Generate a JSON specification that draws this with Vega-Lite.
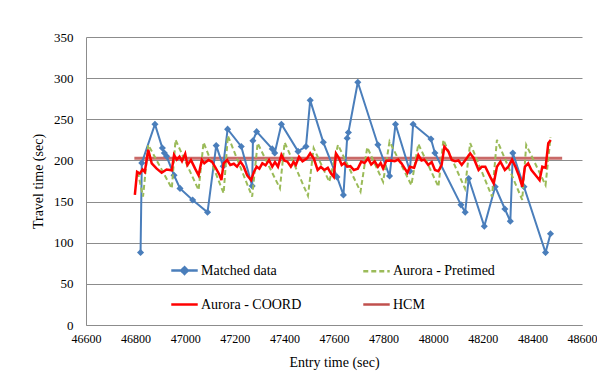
{
  "$schema": "https://vega.github.io/schema/vega-lite/v6.json",
  "width": 496,
  "height": 288,
  "autosize": {"type": "none"},
  "padding": {"left": 86, "top": 37, "right": 15, "bottom": 51},
  "background": "white",
  "config": {
    "view": {"stroke": null},
    "font": "Liberation Serif",
    "axis": {
      "labelFont": "Liberation Serif",
      "titleFont": "Liberation Serif",
      "labelFontSize": 13,
      "titleFontSize": 14,
      "labelColor": "#000000",
      "titleColor": "#000000",
      "titleFontWeight": "normal",
      "gridColor": "#8C8C8C",
      "gridWidth": 1,
      "domainColor": "#8C8C8C",
      "domainWidth": 1,
      "ticks": false
    },
    "legend": {"labelFont": "Liberation Serif"}
  },
  "data": {
    "values": [
      {"series": "HCM", "t": 46795, "v": 202.5},
      {"series": "HCM", "t": 48520, "v": 202.5},

      {"series": "Matched data", "t": 46820, "v": 88},
      {"series": "Matched data", "t": 46825, "v": 197},
      {"series": "Matched data", "t": 46878, "v": 244},
      {"series": "Matched data", "t": 46908, "v": 215},
      {"series": "Matched data", "t": 46916, "v": 209},
      {"series": "Matched data", "t": 46925, "v": 205},
      {"series": "Matched data", "t": 46955, "v": 182},
      {"series": "Matched data", "t": 46979, "v": 166},
      {"series": "Matched data", "t": 47030, "v": 152},
      {"series": "Matched data", "t": 47090, "v": 137},
      {"series": "Matched data", "t": 47125, "v": 218},
      {"series": "Matched data", "t": 47153, "v": 193},
      {"series": "Matched data", "t": 47171, "v": 238},
      {"series": "Matched data", "t": 47226, "v": 217},
      {"series": "Matched data", "t": 47270, "v": 169},
      {"series": "Matched data", "t": 47273, "v": 224},
      {"series": "Matched data", "t": 47288, "v": 235},
      {"series": "Matched data", "t": 47351, "v": 214},
      {"series": "Matched data", "t": 47361, "v": 209},
      {"series": "Matched data", "t": 47388, "v": 244},
      {"series": "Matched data", "t": 47455, "v": 211},
      {"series": "Matched data", "t": 47487, "v": 217},
      {"series": "Matched data", "t": 47504, "v": 273},
      {"series": "Matched data", "t": 47557, "v": 222},
      {"series": "Matched data", "t": 47612, "v": 180},
      {"series": "Matched data", "t": 47638, "v": 158},
      {"series": "Matched data", "t": 47653, "v": 227},
      {"series": "Matched data", "t": 47658, "v": 234},
      {"series": "Matched data", "t": 47696, "v": 295},
      {"series": "Matched data", "t": 47777, "v": 219},
      {"series": "Matched data", "t": 47824, "v": 181},
      {"series": "Matched data", "t": 47848, "v": 244},
      {"series": "Matched data", "t": 47906, "v": 187},
      {"series": "Matched data", "t": 47919, "v": 244},
      {"series": "Matched data", "t": 47991, "v": 226},
      {"series": "Matched data", "t": 48007, "v": 209},
      {"series": "Matched data", "t": 48112, "v": 146},
      {"series": "Matched data", "t": 48129, "v": 137},
      {"series": "Matched data", "t": 48143, "v": 178},
      {"series": "Matched data", "t": 48206, "v": 120},
      {"series": "Matched data", "t": 48250, "v": 168},
      {"series": "Matched data", "t": 48289, "v": 141},
      {"series": "Matched data", "t": 48311, "v": 126},
      {"series": "Matched data", "t": 48321, "v": 209},
      {"series": "Matched data", "t": 48366, "v": 168},
      {"series": "Matched data", "t": 48453, "v": 88},
      {"series": "Matched data", "t": 48473, "v": 111},

      {"series": "Aurora - Pretimed", "t": 46809, "v": 186},
      {"series": "Aurora - Pretimed", "t": 46830, "v": 156},
      {"series": "Aurora - Pretimed", "t": 46851, "v": 219},
      {"series": "Aurora - Pretimed", "t": 46946, "v": 166},
      {"series": "Aurora - Pretimed", "t": 46961, "v": 225},
      {"series": "Aurora - Pretimed", "t": 47054, "v": 164},
      {"series": "Aurora - Pretimed", "t": 47074, "v": 222},
      {"series": "Aurora - Pretimed", "t": 47155, "v": 160},
      {"series": "Aurora - Pretimed", "t": 47172, "v": 230},
      {"series": "Aurora - Pretimed", "t": 47270, "v": 156},
      {"series": "Aurora - Pretimed", "t": 47292, "v": 221},
      {"series": "Aurora - Pretimed", "t": 47382, "v": 166},
      {"series": "Aurora - Pretimed", "t": 47401, "v": 222},
      {"series": "Aurora - Pretimed", "t": 47495, "v": 157},
      {"series": "Aurora - Pretimed", "t": 47518, "v": 215},
      {"series": "Aurora - Pretimed", "t": 47581, "v": 174},
      {"series": "Aurora - Pretimed", "t": 47616, "v": 219},
      {"series": "Aurora - Pretimed", "t": 47707, "v": 162},
      {"series": "Aurora - Pretimed", "t": 47734, "v": 216},
      {"series": "Aurora - Pretimed", "t": 47798, "v": 174},
      {"series": "Aurora - Pretimed", "t": 47824, "v": 223},
      {"series": "Aurora - Pretimed", "t": 47912, "v": 170},
      {"series": "Aurora - Pretimed", "t": 47940, "v": 220},
      {"series": "Aurora - Pretimed", "t": 48021, "v": 168},
      {"series": "Aurora - Pretimed", "t": 48041, "v": 225},
      {"series": "Aurora - Pretimed", "t": 48128, "v": 166},
      {"series": "Aurora - Pretimed", "t": 48149, "v": 221},
      {"series": "Aurora - Pretimed", "t": 48237, "v": 156},
      {"series": "Aurora - Pretimed", "t": 48257, "v": 225},
      {"series": "Aurora - Pretimed", "t": 48359, "v": 152},
      {"series": "Aurora - Pretimed", "t": 48375, "v": 219},
      {"series": "Aurora - Pretimed", "t": 48453, "v": 170},
      {"series": "Aurora - Pretimed", "t": 48473, "v": 228},

      {"series": "Aurora - COORD", "t": 46797, "v": 158},
      {"series": "Aurora - COORD", "t": 46806, "v": 186},
      {"series": "Aurora - COORD", "t": 46817, "v": 184},
      {"series": "Aurora - COORD", "t": 46828, "v": 189},
      {"series": "Aurora - COORD", "t": 46837, "v": 186},
      {"series": "Aurora - COORD", "t": 46851, "v": 213},
      {"series": "Aurora - COORD", "t": 46865, "v": 196.5},
      {"series": "Aurora - COORD", "t": 46885, "v": 190},
      {"series": "Aurora - COORD", "t": 46905, "v": 185},
      {"series": "Aurora - COORD", "t": 46925, "v": 189},
      {"series": "Aurora - COORD", "t": 46946, "v": 188},
      {"series": "Aurora - COORD", "t": 46955, "v": 206.6},
      {"series": "Aurora - COORD", "t": 46966, "v": 201},
      {"series": "Aurora - COORD", "t": 46977, "v": 204.5},
      {"series": "Aurora - COORD", "t": 46987, "v": 199},
      {"series": "Aurora - COORD", "t": 47000, "v": 208},
      {"series": "Aurora - COORD", "t": 47009, "v": 194.5},
      {"series": "Aurora - COORD", "t": 47023, "v": 200.5},
      {"series": "Aurora - COORD", "t": 47040, "v": 190},
      {"series": "Aurora - COORD", "t": 47054, "v": 182},
      {"series": "Aurora - COORD", "t": 47067, "v": 200.5},
      {"series": "Aurora - COORD", "t": 47077, "v": 196.5},
      {"series": "Aurora - COORD", "t": 47094, "v": 200.5},
      {"series": "Aurora - COORD", "t": 47108, "v": 198.5},
      {"series": "Aurora - COORD", "t": 47121, "v": 192},
      {"series": "Aurora - COORD", "t": 47139, "v": 182},
      {"series": "Aurora - COORD", "t": 47146, "v": 176},
      {"series": "Aurora - COORD", "t": 47155, "v": 196.5},
      {"series": "Aurora - COORD", "t": 47169, "v": 200.5},
      {"series": "Aurora - COORD", "t": 47182, "v": 194.5},
      {"series": "Aurora - COORD", "t": 47196, "v": 196},
      {"series": "Aurora - COORD", "t": 47209, "v": 192.4},
      {"series": "Aurora - COORD", "t": 47223, "v": 198.5},
      {"series": "Aurora - COORD", "t": 47236, "v": 192.4},
      {"series": "Aurora - COORD", "t": 47250, "v": 182},
      {"series": "Aurora - COORD", "t": 47266, "v": 176},
      {"series": "Aurora - COORD", "t": 47277, "v": 186},
      {"series": "Aurora - COORD", "t": 47288, "v": 192.4},
      {"series": "Aurora - COORD", "t": 47299, "v": 190},
      {"series": "Aurora - COORD", "t": 47311, "v": 196.5},
      {"series": "Aurora - COORD", "t": 47324, "v": 194},
      {"series": "Aurora - COORD", "t": 47338, "v": 200.5},
      {"series": "Aurora - COORD", "t": 47351, "v": 192.4},
      {"series": "Aurora - COORD", "t": 47362, "v": 198},
      {"series": "Aurora - COORD", "t": 47374, "v": 192.4},
      {"series": "Aurora - COORD", "t": 47388, "v": 206.6},
      {"series": "Aurora - COORD", "t": 47399, "v": 200},
      {"series": "Aurora - COORD", "t": 47412, "v": 198.5},
      {"series": "Aurora - COORD", "t": 47426, "v": 192.4},
      {"series": "Aurora - COORD", "t": 47437, "v": 198},
      {"series": "Aurora - COORD", "t": 47446, "v": 194.5},
      {"series": "Aurora - COORD", "t": 47459, "v": 204.5},
      {"series": "Aurora - COORD", "t": 47473, "v": 199},
      {"series": "Aurora - COORD", "t": 47491, "v": 202.5},
      {"series": "Aurora - COORD", "t": 47504, "v": 208.6},
      {"series": "Aurora - COORD", "t": 47519, "v": 202},
      {"series": "Aurora - COORD", "t": 47534, "v": 188.4},
      {"series": "Aurora - COORD", "t": 47547, "v": 192},
      {"series": "Aurora - COORD", "t": 47561, "v": 188.4},
      {"series": "Aurora - COORD", "t": 47575, "v": 191},
      {"series": "Aurora - COORD", "t": 47588, "v": 184},
      {"series": "Aurora - COORD", "t": 47599, "v": 180},
      {"series": "Aurora - COORD", "t": 47608, "v": 208.6},
      {"series": "Aurora - COORD", "t": 47620, "v": 203},
      {"series": "Aurora - COORD", "t": 47631, "v": 194.5},
      {"series": "Aurora - COORD", "t": 47642, "v": 197},
      {"series": "Aurora - COORD", "t": 47653, "v": 192.4},
      {"series": "Aurora - COORD", "t": 47666, "v": 193},
      {"series": "Aurora - COORD", "t": 47680, "v": 188.4},
      {"series": "Aurora - COORD", "t": 47696, "v": 190},
      {"series": "Aurora - COORD", "t": 47710, "v": 198.5},
      {"series": "Aurora - COORD", "t": 47723, "v": 197},
      {"series": "Aurora - COORD", "t": 47737, "v": 202.5},
      {"series": "Aurora - COORD", "t": 47750, "v": 195},
      {"series": "Aurora - COORD", "t": 47764, "v": 199},
      {"series": "Aurora - COORD", "t": 47777, "v": 192.4},
      {"series": "Aurora - COORD", "t": 47788, "v": 197},
      {"series": "Aurora - COORD", "t": 47798, "v": 190.4},
      {"series": "Aurora - COORD", "t": 47811, "v": 199.7},
      {"series": "Aurora - COORD", "t": 47831, "v": 200},
      {"series": "Aurora - COORD", "t": 47845, "v": 199},
      {"series": "Aurora - COORD", "t": 47859, "v": 201},
      {"series": "Aurora - COORD", "t": 47872, "v": 196.5},
      {"series": "Aurora - COORD", "t": 47885, "v": 190.4},
      {"series": "Aurora - COORD", "t": 47896, "v": 185},
      {"series": "Aurora - COORD", "t": 47906, "v": 192.4},
      {"series": "Aurora - COORD", "t": 47923, "v": 191},
      {"series": "Aurora - COORD", "t": 47940, "v": 206.6},
      {"series": "Aurora - COORD", "t": 47953, "v": 200},
      {"series": "Aurora - COORD", "t": 47964, "v": 201},
      {"series": "Aurora - COORD", "t": 47980, "v": 194.5},
      {"series": "Aurora - COORD", "t": 47994, "v": 198},
      {"series": "Aurora - COORD", "t": 48007, "v": 188.4},
      {"series": "Aurora - COORD", "t": 48021, "v": 187},
      {"series": "Aurora - COORD", "t": 48034, "v": 194.5},
      {"series": "Aurora - COORD", "t": 48045, "v": 216.7},
      {"series": "Aurora - COORD", "t": 48061, "v": 211},
      {"series": "Aurora - COORD", "t": 48075, "v": 200.5},
      {"series": "Aurora - COORD", "t": 48088, "v": 199},
      {"series": "Aurora - COORD", "t": 48102, "v": 200},
      {"series": "Aurora - COORD", "t": 48115, "v": 194.5},
      {"series": "Aurora - COORD", "t": 48136, "v": 203},
      {"series": "Aurora - COORD", "t": 48149, "v": 208.6},
      {"series": "Aurora - COORD", "t": 48163, "v": 203},
      {"series": "Aurora - COORD", "t": 48183, "v": 188.4},
      {"series": "Aurora - COORD", "t": 48196, "v": 192.4},
      {"series": "Aurora - COORD", "t": 48210, "v": 192.4},
      {"series": "Aurora - COORD", "t": 48230, "v": 180},
      {"series": "Aurora - COORD", "t": 48244, "v": 172},
      {"series": "Aurora - COORD", "t": 48257, "v": 192.4},
      {"series": "Aurora - COORD", "t": 48271, "v": 198.5},
      {"series": "Aurora - COORD", "t": 48289, "v": 188.4},
      {"series": "Aurora - COORD", "t": 48302, "v": 192},
      {"series": "Aurora - COORD", "t": 48318, "v": 201},
      {"series": "Aurora - COORD", "t": 48332, "v": 192},
      {"series": "Aurora - COORD", "t": 48345, "v": 182},
      {"series": "Aurora - COORD", "t": 48359, "v": 168},
      {"series": "Aurora - COORD", "t": 48370, "v": 192.4},
      {"series": "Aurora - COORD", "t": 48383, "v": 196.5},
      {"series": "Aurora - COORD", "t": 48396, "v": 188.4},
      {"series": "Aurora - COORD", "t": 48413, "v": 182},
      {"series": "Aurora - COORD", "t": 48429, "v": 176},
      {"series": "Aurora - COORD", "t": 48440, "v": 192.4},
      {"series": "Aurora - COORD", "t": 48453, "v": 191},
      {"series": "Aurora - COORD", "t": 48464, "v": 220.8},
      {"series": "Aurora - COORD", "t": 48474, "v": 224.8}
    ]
  },
  "encoding": {
    "x": {
      "field": "t",
      "type": "quantitative",
      "scale": {"domain": [46600, 48600], "nice": false, "zero": false},
      "axis": {
        "title": "Entry time (sec)",
        "values": [46600, 46800, 47000, 47200, 47400, 47600, 47800, 48000, 48200, 48400, 48600],
        "format": "d",
        "grid": false,
        "labelFont": "Liberation Serif",
        "titleFont": "Liberation Serif",
        "labelFontSize": 12,
        "labelPadding": 8,
        "titlePadding": 11,
        "labelFlush": false
      }
    },
    "y": {
      "field": "v",
      "type": "quantitative",
      "scale": {"domain": [0, 350], "nice": false},
      "axis": {
        "title": "Travel time (sec)",
        "values": [0, 50, 100, 150, 200, 250, 300, 350],
        "labelFont": "Liberation Serif",
        "titleFont": "Liberation Serif",
        "labelPadding": 13,
        "titlePadding": 8,
        "labelFlush": false
      }
    },
    "color": {
      "field": "series",
      "type": "nominal",
      "scale": {
        "domain": ["Matched data", "Aurora - Pretimed", "Aurora - COORD", "HCM"],
        "range": ["#4A7EBB", "#9BBB59", "#FF0000", "#C0504D"]
      },
      "legend": {
        "title": null,
        "orient": "none",
        "legendX": 84,
        "legendY": 219,
        "columns": 2,
        "direction": "horizontal",
        "symbolType": "M-1,0L1,0",
        "symbolSize": 700,
        "symbolStrokeWidth": 2.5,
        "labelFont": "Liberation Serif",
        "labelFontSize": 14,
        "labelColor": "#000000",
        "labelOffset": 2,
        "rowPadding": 11,
        "columnPadding": 56,
        "encode": {
          "symbols": {
            "update": {
              "shape": {"signal": "datum.value === 'Matched data' ? 'M-1,0L1,0M0,-0.25L0.25,0L0,0.25L-0.25,0Z' : 'M-1,0L1,0'"},
              "fill": {"signal": "datum.value === 'Matched data' ? '#4A7EBB' : 'transparent'"},
              "strokeDash": {"signal": "datum.value === 'Aurora - Pretimed' ? [5, 3] : [1, 0]"}
            }
          }
        }
      }
    }
  },
  "layer": [
    {
      "transform": [{"filter": "datum.series === 'HCM'"}],
      "mark": {"type": "line", "strokeWidth": 3, "opacity": 0.85}
    },
    {
      "transform": [{"filter": "datum.series === 'Matched data'"}],
      "mark": {"type": "line", "strokeWidth": 2}
    },
    {
      "transform": [{"filter": "datum.series === 'Matched data'"}],
      "mark": {"type": "point", "shape": "diamond", "filled": true, "size": 50, "opacity": 1}
    },
    {
      "transform": [{"filter": "datum.series === 'Aurora - Pretimed'"}],
      "mark": {"type": "line", "strokeWidth": 2, "strokeDash": [5, 3]}
    },
    {
      "transform": [{"filter": "datum.series === 'Aurora - COORD'"}],
      "mark": {"type": "line", "strokeWidth": 2.5}
    }
  ]
}
